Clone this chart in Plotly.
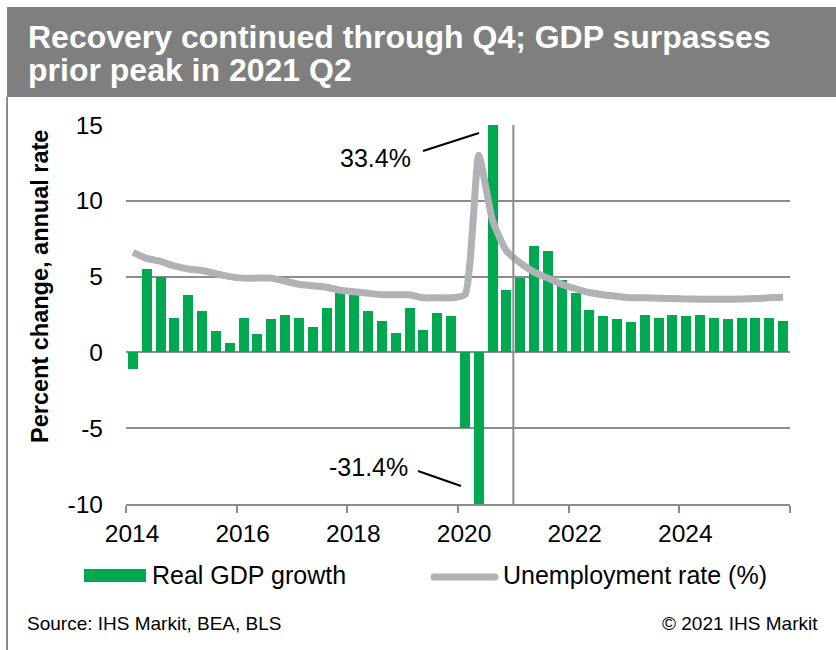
import plotly.graph_objects as go

# Quarterly series, 2014Q1 - 2025Q4
quarters = [f"{y}Q{q}" for y in range(2014, 2026) for q in range(1, 5)]

gdp_growth = [
    -1.1, 5.5, 5.0, 2.3,
    3.8, 2.7, 1.4, 0.6,
    2.3, 1.2, 2.2, 2.5,
    2.3, 1.7, 2.9, 3.9,
    3.8, 2.7, 2.1, 1.3,
    2.9, 1.5, 2.6, 2.4,
    -5.0, -31.4, 33.4, 4.1,
    4.9, 7.0, 6.7, 4.8,
    3.9, 2.8, 2.4, 2.2,
    2.0, 2.5, 2.3, 2.5,
    2.4, 2.5, 2.3, 2.2,
    2.3, 2.3, 2.3, 2.1,
]

unemployment = [
    6.6, 6.2, 6.0, 5.7,
    5.5, 5.4, 5.2, 5.0,
    4.9, 4.9, 4.9, 4.7,
    4.5, 4.4, 4.3, 4.1,
    4.0, 3.9, 3.8, 3.8,
    3.8, 3.6, 3.6, 3.6,
    3.8, 13.0, 8.7, 6.7,
    5.9, 5.3, 4.9, 4.5,
    4.2, 3.95, 3.8, 3.7,
    3.6, 3.6, 3.57, 3.55,
    3.53, 3.5, 3.5, 3.5,
    3.52, 3.55, 3.6, 3.64,
]

year_ticks = [2014, 2016, 2018, 2020, 2022, 2024, 2026]
year_labels = ["2014", "2016", "2018", "2020", "2022", "2024", ""]

value_ticks = [-10, -5, 0, 5, 10, 15]
value_labels = ["-10", "-5", "0", "5", "10", "15"]

title_lines = ["Recovery continued through Q4; GDP surpasses", "prior peak in 2021 Q2"]

# quarter midpoints on a continuous year axis
x_pos = [int(s[:4]) + (int(s[-1]) - 0.5) / 4 for s in quarters]

W, H = 836, 650
L, R, T, B = 126, 46, 125, 146
PW, PH = W - L - R, H - T - B

GREEN = "#00A84F"
LINE_GRAY = "#B1B2B5"
GRID = "#8C8C8C"
BAND = "#7F7F7F"
FONT = "Liberation Sans, Arial, sans-serif"


def px(xp):
    return (xp - L) / PW


def py(yp):
    return (H - B - yp) / PH


fig = go.Figure()
fig.add_trace(go.Bar(
    x=x_pos, y=gdp_growth, width=0.18, marker=dict(color=GREEN, line_width=0),
    name="Real GDP growth", showlegend=False,
))
fig.add_trace(go.Scatter(
    x=x_pos, y=unemployment, mode="lines",
    line=dict(color=LINE_GRAY, width=7, shape="spline", smoothing=0.5),
    name="Unemployment rate (%)", showlegend=False,
))

shapes = [
    # title band and frame
    dict(type="rect", xref="paper", yref="paper", x0=px(7), x1=px(W + 5), y0=py(97), y1=py(7),
         fillcolor=BAND, line_width=0, layer="below"),
    dict(type="line", xref="paper", yref="paper", x0=px(7), x1=px(7), y0=py(97), y1=py(H + 5),
         line=dict(color=GRID, width=2)),
    # history / forecast divider
    dict(type="line", xref="x", yref="paper", x0=2021, x1=2021, y0=0, y1=1,
         line=dict(color=GRID, width=2)),
    # callout leaders
    dict(type="line", xref="paper", yref="paper", x0=px(423), y0=py(151), x1=px(479), y1=py(133),
         line=dict(color="black", width=2)),
    dict(type="line", xref="paper", yref="paper", x0=px(418), y0=py(471), x1=px(461), y1=py(486),
         line=dict(color="black", width=2)),
    # legend keys
    dict(type="rect", xref="paper", yref="paper", x0=px(84), x1=px(146), y0=py(582), y1=py(569),
         fillcolor=GREEN, line_width=0),
    dict(type="line", xref="paper", yref="paper", x0=px(434), x1=px(495), y0=py(577), y1=py(577),
         line=dict(color=LINE_GRAY, width=7)),
]
for cx in (434, 495):
    shapes.append(dict(type="circle", xref="paper", yref="paper",
                       x0=px(cx - 3.5), x1=px(cx + 3.5), y0=py(577 + 3.5), y1=py(577 - 3.5),
                       fillcolor=LINE_GRAY, line_width=0))

annotations = [
    dict(text=f"<b>{title_lines[0]}</b>", x=px(26), y=py(37), xanchor="left", yanchor="middle",
         font=dict(size=32, color="white", family=FONT)),
    dict(text=f"<b>{title_lines[1]}</b>", x=px(26), y=py(70), xanchor="left", yanchor="middle",
         font=dict(size=32, color="white", family=FONT)),
    dict(text="<b>Percent change, annual rate</b>", x=px(40), y=py(287), textangle=-90,
         xanchor="center", yanchor="middle", font=dict(size=23.5, color="black", family=FONT)),
    dict(text=f"{gdp_growth[26]:.1f}%", x=px(375.5), y=py(158), xanchor="center", yanchor="middle",
         font=dict(size=25, color="black", family=FONT)),
    dict(text=f"{gdp_growth[25]:.1f}%", x=px(368.5), y=py(467), xanchor="center", yanchor="middle",
         font=dict(size=25, color="black", family=FONT)),
    dict(text="Real GDP growth", x=px(150), y=py(575), xanchor="left", yanchor="middle",
         font=dict(size=25, color="black", family=FONT)),
    dict(text="Unemployment rate (%)", x=px(501), y=py(575), xanchor="left", yanchor="middle",
         font=dict(size=25, color="black", family=FONT)),
    dict(text="Source: IHS Markit, BEA, BLS", x=px(25), y=py(623), xanchor="left", yanchor="middle",
         font=dict(size=19, color="black", family=FONT)),
    dict(text="© 2021 IHS Markit", x=px(820), y=py(623), xanchor="right", yanchor="middle",
         font=dict(size=19, color="black", family=FONT)),
]
for a in annotations:
    a.update(xref="paper", yref="paper", showarrow=False)

fig.update_layout(
    width=W, height=H,
    margin=dict(l=L, r=R, t=T, b=B, pad=0),
    paper_bgcolor="white", plot_bgcolor="white",
    font=dict(family=FONT, color="black"),
    showlegend=False,
    bargap=0,
    shapes=shapes,
    annotations=annotations,
)
fig.update_xaxes(
    range=[2014, 2026], tickvals=year_ticks, ticktext=year_labels,
    showgrid=False, zeroline=False,
    showline=True, linecolor=GRID, linewidth=2,
    ticks="outside", ticklen=7, tickwidth=2, tickcolor=GRID,
    tickfont=dict(size=24.5, family=FONT, color="black"),
    ticklabelshift=6, ticklabelstandoff=0,
    fixedrange=True,
)
fig.update_yaxes(
    range=[-10, 15], tickvals=value_ticks, ticktext=value_labels,
    showgrid=True, gridcolor=GRID, gridwidth=2,
    zeroline=True, zerolinecolor=GRID, zerolinewidth=2,
    showline=False, ticks="",
    tickfont=dict(size=24.5, family=FONT, color="black"),
    ticklabelstandoff=22,
    fixedrange=True,
)

fig.write_html("out.html")
